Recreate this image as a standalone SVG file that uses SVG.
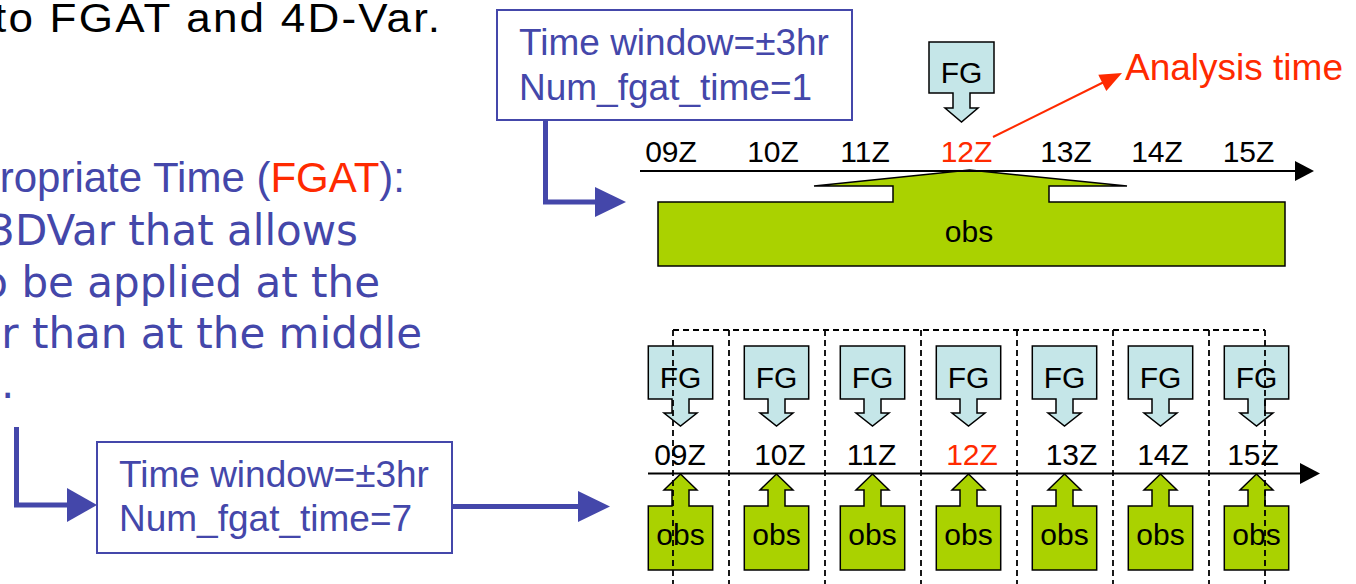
<svg xmlns="http://www.w3.org/2000/svg" width="1356" height="584" viewBox="0 0 1356 584">
<style>
.ar{font-family:"Liberation Sans",Arial,sans-serif}
.dv{font-family:"DejaVu Sans",Verdana,sans-serif;font-size:42px;fill:#4447AA}
.lbl{font-family:"Liberation Sans",Arial,sans-serif;font-size:30px;fill:#000;text-anchor:middle}
.red{fill:#FF2A00}
.box{fill:#fff;stroke:#4447AA;stroke-width:2}
.btxt{font-family:"Liberation Sans",Arial,sans-serif;font-size:37px;fill:#4447AA}
.fg{fill:#C5E6E8;stroke:#000;stroke-width:1.5}
.obs{fill:#AAD200;stroke:#000;stroke-width:1.5}
.bl{fill:none;stroke:#4447AA;stroke-width:5}
.blh{fill:#4447AA}
.dash{fill:none;stroke:#000;stroke-width:1.8;stroke-dasharray:6 4}
.axis{stroke:#000;stroke-width:2}
</style>

<g id="title">
<text class="ar" x="-6" y="0" font-size="44" textLength="446" lengthAdjust="spacing" fill="#000" transform="translate(0,32) scale(1,0.92)">to FGAT and 4D-Var.</text>
</g>

<g id="bullets">
<text class="ar" x="405" y="192" font-size="42" fill="#4447AA" text-anchor="end">ropriate Time (<tspan class="red">FGAT</tspan>):</text>
<text class="dv" x="358" y="245" text-anchor="end">3DVar that allows</text>
<text class="dv" x="380" y="297" text-anchor="end">o be applied at the</text>
<text class="dv" x="422" y="348" text-anchor="end">r than at the middle</text>
<text class="dv" x="1" y="398">.</text>
</g>

<g id="box1">
<rect class="box" x="497" y="10" width="355" height="110"/>
<text class="btxt" x="519" y="55">Time window=±3hr</text>
<text class="btxt" x="519" y="100">Num_fgat_time=1</text>
</g>

<g id="box2">
<rect class="box" x="97" y="442" width="355" height="111"/>
<text class="btxt" x="119" y="487">Time window=±3hr</text>
<text class="btxt" x="119" y="531">Num_fgat_time=7</text>
</g>

<g id="fg-top">
<path class="fg" d="M929,42 H994 V93 H970 V108 H978 L961.5,122 L945,108 H953 V93 H929 Z"/>
<text class="lbl" x="961.5" y="83">FG</text>
</g>

<g id="obs-top">
<path class="obs" d="M969.5,170 L1127,186 H1049 V202 H1285 V266 H658 V202 H893 V186 H814 Z"/>
<text class="lbl" x="969" y="242">obs</text>
</g>

<g id="axis-top">
<line class="axis" x1="640" y1="171" x2="1298" y2="171"/>
<polygon points="1295,161 1314,171 1295,181" fill="#000"/>
<text class="lbl" x="671" y="162">09Z</text>
<text class="lbl" x="773" y="162">10Z</text>
<text class="lbl" x="865" y="162">11Z</text>
<text class="lbl red" x="966.5" y="162">12Z</text>
<text class="lbl" x="1066" y="162">13Z</text>
<text class="lbl" x="1157" y="162">14Z</text>
<text class="lbl" x="1248.5" y="162">15Z</text>
</g>

<g id="analysis-time">
<text class="ar red" x="1125" y="80" font-size="37">Analysis time</text>
</g>

<g id="fg-bottom">
<path class="fg" d="M648.3,346 H712.7 V399 H689 V413 H697 L680.5,426 L664,413 H672 V399 H648.3 Z"/>
<text class="lbl" x="680.5" y="388">FG</text>
<path class="fg" d="M744.3,346 H808.7 V399 H785 V413 H793 L776.5,426 L760,413 H768 V399 H744.3 Z"/>
<text class="lbl" x="776.5" y="388">FG</text>
<path class="fg" d="M840.3,346 H904.7 V399 H881 V413 H889 L872.5,426 L856,413 H864 V399 H840.3 Z"/>
<text class="lbl" x="872.5" y="388">FG</text>
<path class="fg" d="M936.3,346 H1000.7 V399 H977 V413 H985 L968.5,426 L952,413 H960 V399 H936.3 Z"/>
<text class="lbl" x="968.5" y="388">FG</text>
<path class="fg" d="M1032.3,346 H1096.7 V399 H1073 V413 H1081 L1064.5,426 L1048,413 H1056 V399 H1032.3 Z"/>
<text class="lbl" x="1064.5" y="388">FG</text>
<path class="fg" d="M1128.3,346 H1192.7 V399 H1169 V413 H1177 L1160.5,426 L1144,413 H1152 V399 H1128.3 Z"/>
<text class="lbl" x="1160.5" y="388">FG</text>
<path class="fg" d="M1224.3,346 H1288.7 V399 H1265 V413 H1273 L1256.5,426 L1240,413 H1248 V399 H1224.3 Z"/>
<text class="lbl" x="1256.5" y="388">FG</text>
</g>

<g id="obs-bottom">
<path class="obs" d="M680.5,474 L697,490 H689 V506 H712.7 V570 H648.3 V506 H672 V490 H664 Z"/>
<text class="lbl" x="680.5" y="545">obs</text>
<path class="obs" d="M776.5,474 L793,490 H785 V506 H808.7 V570 H744.3 V506 H768 V490 H760 Z"/>
<text class="lbl" x="776.5" y="545">obs</text>
<path class="obs" d="M872.5,474 L889,490 H881 V506 H904.7 V570 H840.3 V506 H864 V490 H856 Z"/>
<text class="lbl" x="872.5" y="545">obs</text>
<path class="obs" d="M968.5,474 L985,490 H977 V506 H1000.7 V570 H936.3 V506 H960 V490 H952 Z"/>
<text class="lbl" x="968.5" y="545">obs</text>
<path class="obs" d="M1064.5,474 L1081,490 H1073 V506 H1096.7 V570 H1032.3 V506 H1056 V490 H1048 Z"/>
<text class="lbl" x="1064.5" y="545">obs</text>
<path class="obs" d="M1160.5,474 L1177,490 H1169 V506 H1192.7 V570 H1128.3 V506 H1152 V490 H1144 Z"/>
<text class="lbl" x="1160.5" y="545">obs</text>
<path class="obs" d="M1256.5,474 L1273,490 H1265 V506 H1288.7 V570 H1224.3 V506 H1248 V490 H1240 Z"/>
<text class="lbl" x="1256.5" y="545">obs</text>
</g>

<g id="axis-bottom">
<line class="axis" x1="648" y1="473.5" x2="1302" y2="473.5"/>
<polygon points="1300,463 1320,473.5 1300,484" fill="#000"/>
<text class="lbl" x="680" y="465">09Z</text>
<text class="lbl" x="780" y="465">10Z</text>
<text class="lbl" x="871.5" y="465">11Z</text>
<text class="lbl red" x="972" y="465">12Z</text>
<text class="lbl" x="1071.5" y="465">13Z</text>
<text class="lbl" x="1163" y="465">14Z</text>
<text class="lbl" x="1253" y="465">15Z</text>
</g>

<g id="windows">
<path class="dash" d="M673,330 H1265 M673,330 V584 M729,330 V584 M825,330 V584 M921,330 V584 M1017,330 V584 M1113,330 V584 M1209,330 V584 M1265,330 V584"/>
</g>

<g id="connectors">
<path class="bl" d="M545.5,120 V202 H597"/>
<polygon class="blh" points="595,187 626,202 595,217"/>
<path class="bl" d="M16.5,427 V505 H69"/>
<polygon class="blh" points="67,488 97,505 67,522"/>
<path class="bl" d="M452,506.5 H580"/>
<polygon class="blh" points="578,491 610,506.5 578,522"/>
<line x1="993" y1="137" x2="1104" y2="82" stroke="#FF2A00" stroke-width="2"/>
<polygon points="1122,73 1106.3,90.9 1098.3,74.7" fill="#FF2A00"/>
</g>
</svg>
